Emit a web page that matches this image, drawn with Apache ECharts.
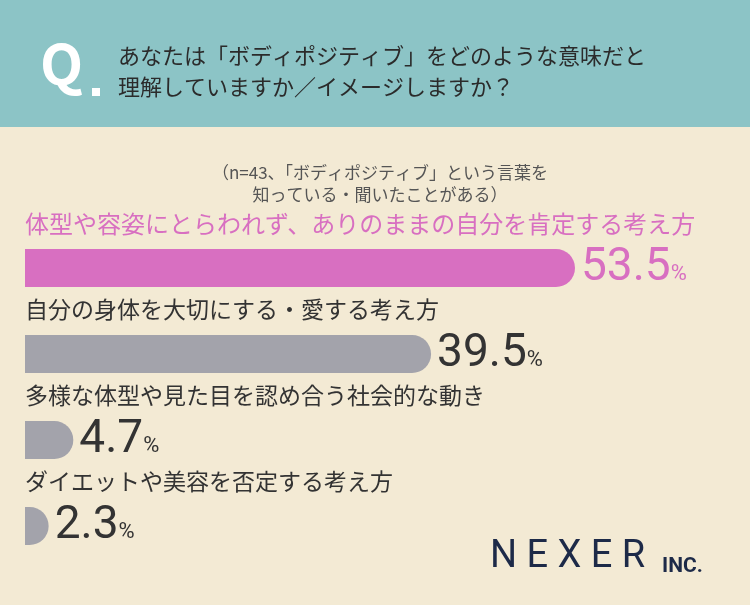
<!DOCTYPE html>
<html><head><meta charset="utf-8">
<script src="https://cdn.jsdelivr.net/npm/echarts@6/dist/echarts.min.js"></script>
<style>html,body{margin:0;padding:0;background:#f3ead4}#c{width:750px;height:605px}</style>
</head><body><div id="c"></div>
<script>
const categories = ['体型や容姿にとらわれず、ありのままの自分を肯定する考え方','自分の身体を大切にする・愛する考え方','多様な体型や見た目を認め合う社会的な動き','ダイエットや美容を否定する考え方'];
const values = [53.5, 39.5, 4.7, 2.3];
const colors = ['#d86fc1','#a3a3ab','#a3a3ab','#a3a3ab'];
const labelColors = ['#d86fc1','#333','#333','#333'];
const font = '"Noto Sans CJK JP", sans-serif';
const chart = echarts.init(document.getElementById('c'));
chart.setOption({
  backgroundColor:'#f3ead4',
  graphic:[
    {type:'rect',shape:{x:0,y:0,width:750,height:127},style:{fill:'#8cc4c6'}},
    {type:'text',left:40,top:36,style:{text:'Q',fill:'#fff',font:'bold 56px '+font}},
    {type:'rect',shape:{x:92,y:88,width:8,height:8},style:{fill:'#fff'}},
    {type:'text',left:118,top:40,style:{text:'あなたは「ボディポジティブ」をどのような意味だと\n理解していますか／イメージしますか？',fill:'#2b2b2b',font:'22px '+font,lineHeight:31}},
    {type:'text',x:380,y:162,style:{text:'（n=43、「ボディポジティブ」という言葉を\n知っている・聞いたことがある）',fill:'#555',font:'17px '+font,lineHeight:22,align:'center'}},
    {type:'text',x:490,y:538,style:{text:'N E X E R',fill:'#1d2a48',font:'400 38px Roboto, sans-serif'}},
    {type:'text',x:662,y:556,style:{text:'INC.',fill:'#1d2a48',font:'bold 21px Roboto, sans-serif'}}
  ],
  grid:{left:25,width:550,top:225,height:344},
  xAxis:{type:'value',min:0,max:53.5,show:false},
  yAxis:{type:'category',data:categories,inverse:true,show:false},
  series:[
    {type:'bar',data:values.map((v,i)=>({value:v,itemStyle:{color:colors[i]},label:{rich:{n:{fontSize:46,color:labelColors[i],fontFamily:'Roboto, sans-serif'},p:{fontSize:22,color:labelColors[i],fontFamily:'Roboto, sans-serif',padding:[12,0,0,0]}}}})),
     barWidth:38,itemStyle:{borderRadius:[0,19,19,0]},
     label:{show:true,position:'right',distance:6,formatter:p=>'{n|'+p.value.toFixed(1)+'}{p|%}'},z:3},
    {type:'bar',data:values.map((v,i)=>({value:53.5,label:{color:labelColors[i],fontSize:i===0?24:23}})),barWidth:38,barGap:'-100%',itemStyle:{color:'transparent'},silent:true,
     label:{show:true,position:'insideTopLeft',offset:[-5,-42],formatter:p=>categories[p.dataIndex],
       fontFamily:font},z:2}
  ]
});
</script></body></html>
